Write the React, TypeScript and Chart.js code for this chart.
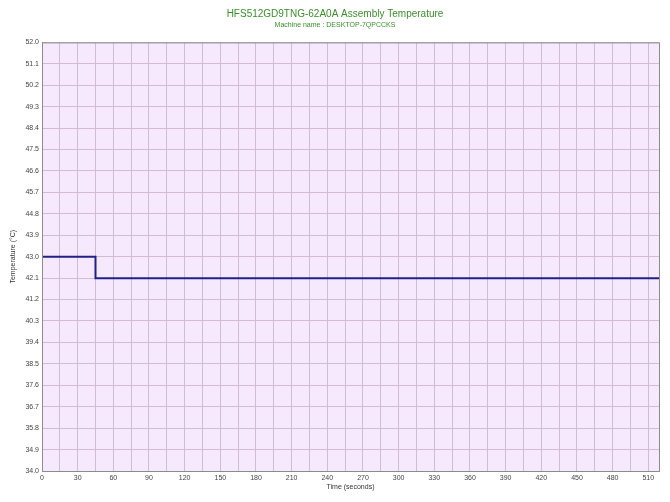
import React, { useEffect, useRef } from "react";
import { Chart, registerables } from "chart.js";

Chart.register(...registerables);

const titleText = "HFS512GD9TNG-62A0A Assembly Temperature";
const subtitleText = "Machine name : DESKTOP-7QPCCKS";
const times = [0, 45, 45, 519];
const temps = [43.0, 43.0, 42.1, 42.1];
const xMin = 0;
const xMax = 519;
const xGridStep = 15;
const xLabelStep = 30;
const yMin = 34.0;
const yMax = 52.0;
const yStep = 0.9;

const frame = {
  id: "frame",
  afterDraw(chart: any) {
    const { ctx, chartArea } = chart;
    ctx.save();
    ctx.strokeStyle = "#8c8c8c";
    ctx.lineWidth = 1;
    ctx.strokeRect(chartArea.left + 0.5, chartArea.top + 0.5, chartArea.right - chartArea.left, chartArea.bottom - chartArea.top);
    ctx.restore();
  },
  beforeDraw(chart: any) {
    const { ctx, chartArea } = chart;
    ctx.save();
    ctx.fillStyle = "#ffffff";
    ctx.fillRect(0, 0, chart.width, chart.height);
    ctx.fillStyle = "#f6e8fd";
    ctx.fillRect(chartArea.left, chartArea.top, chartArea.right - chartArea.left, chartArea.bottom - chartArea.top);
    ctx.restore();
  },
};

export default function App() {
  const ref = useRef<HTMLCanvasElement>(null);
  useEffect(() => {
    if (!ref.current) return;
    const font = "'Liberation Sans', Arial, sans-serif";
    const chart = new Chart(ref.current, {
      type: "line",
      data: {
        datasets: [
          {
            data: times.map((t, i) => ({ x: t, y: temps[i] })),
            borderColor: "#20208a",
            borderWidth: 2,
            pointRadius: 0,
            tension: 0,
            fill: false,
          },
        ],
      },
      options: {
        animation: false,
        responsive: false,
        devicePixelRatio: 1,
        layout: { padding: { left: 11, right: 11, top: 0, bottom: 0 } },
        plugins: {
          legend: { display: false },
          tooltip: { enabled: false },
          title: {
            display: true,
            text: titleText,
            color: "#3a8f2a",
            font: { family: font, size: 10, weight: "normal" },
            padding: { top: 8, bottom: 1 },
          },
          subtitle: {
            display: true,
            text: subtitleText,
            color: "#3a8f2a",
            font: { family: font, size: 7, weight: "normal" },
            padding: { top: 0, bottom: 13 },
          },
        },
        scales: {
          x: {
            type: "linear",
            min: xMin,
            max: xMax,
            afterFit(scale: any) {
              scale.height = 31;
            },
            ticks: {
              stepSize: xGridStep,
              includeBounds: false,
              autoSkip: false,
              maxRotation: 0,
              padding: 3,
              color: "#444444",
              font: { family: font, size: 7 },
              callback: (v: any) => (Number(v) % xLabelStep === 0 ? String(v) : ""),
            },
            grid: { color: "#d0bcd4", lineWidth: 1, drawTicks: false },
            border: { color: "#8c8c8c" },
            title: {
              display: true,
              text: "Time (seconds)",
              color: "#333333",
              font: { family: font, size: 7 },
              padding: { top: 1, bottom: 11 },
            },
          },
          y: {
            type: "linear",
            min: yMin,
            max: yMax,
            afterFit(scale: any) {
              scale.width = 31;
            },
            ticks: {
              stepSize: yStep,
              autoSkip: false,
              padding: 3,
              color: "#444444",
              font: { family: font, size: 7 },
              callback: (v: any) => Number(v).toFixed(1),
            },
            grid: { color: "#d0bcd4", lineWidth: 1, drawTicks: false },
            border: { color: "#8c8c8c" },
            title: {
              display: true,
              text: "Temperature (°C)",
              color: "#333333",
              font: { family: font, size: 7 },
              padding: { top: -2, bottom: 2 },
            },
          },
        },
      },
      plugins: [frame],
    });
    return () => chart.destroy();
  }, []);
  return (
    <div style={{ position: "fixed", left: 0, top: 0, width: 670, height: 502, background: "#fff" }}>
      <canvas ref={ref} width={670} height={502} style={{ width: 670, height: 502 }} />
    </div>
  );
}
